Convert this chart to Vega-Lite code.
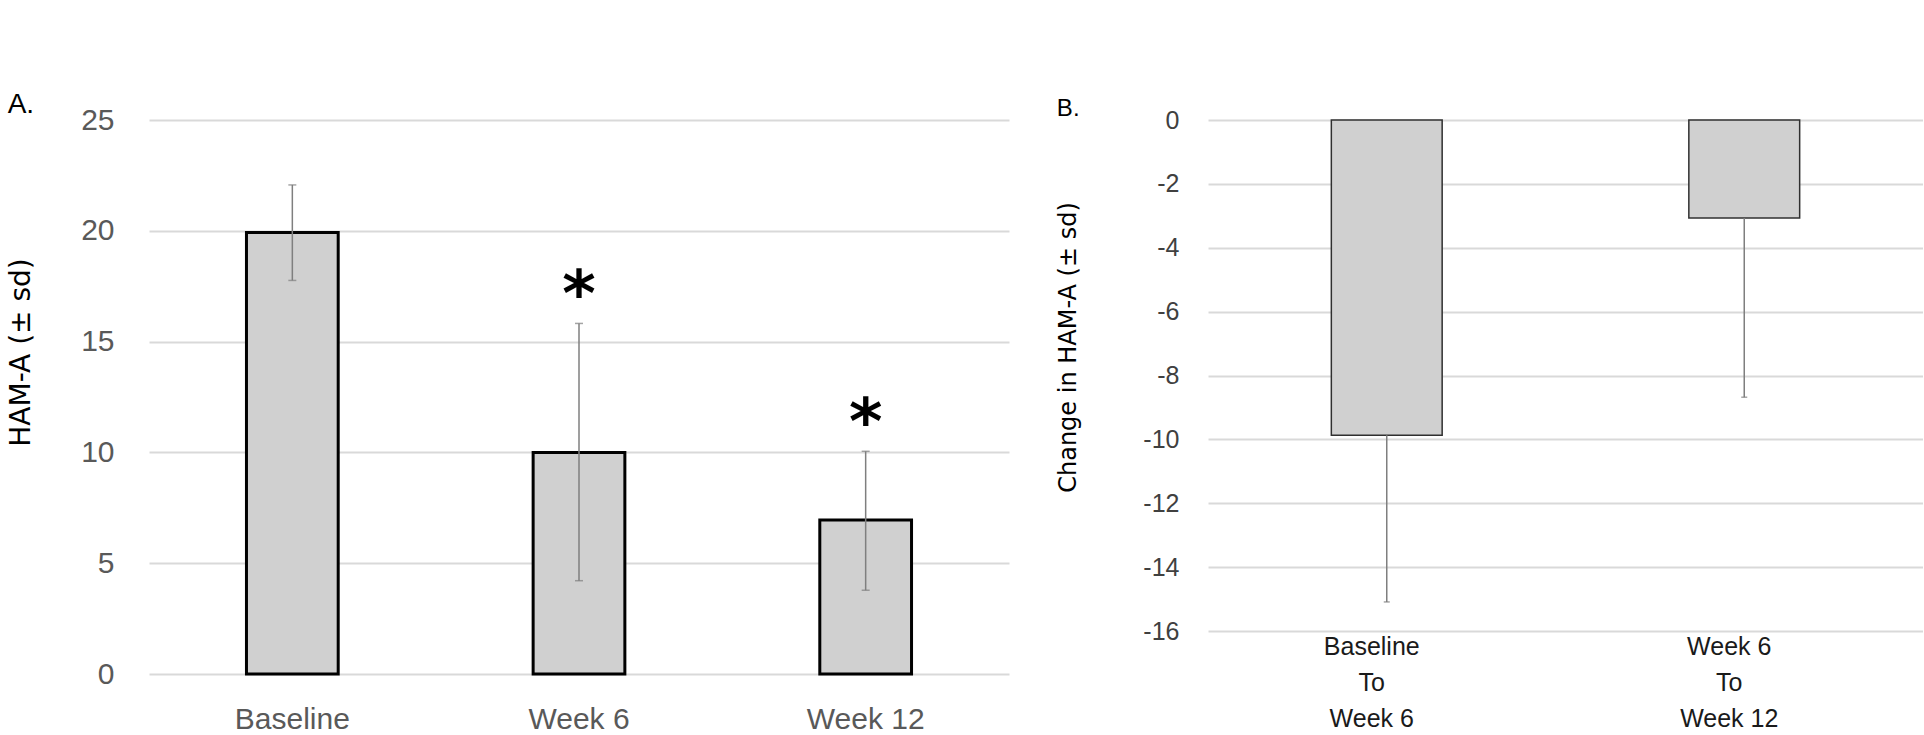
{
  "$schema": "https://vega.github.io/schema/vega-lite/v6.json",
  "background": "white",
  "padding": {"left": 7, "top": 91, "right": 0, "bottom": 0},
  "config": {"view": {"stroke": null}},
  "bounds": "flush",
  "spacing": 199,
  "hconcat": [
    {
      "title": {"text": "A.", "anchor": "start", "frame": "bounds", "fontSize": 28, "font": "Liberation Sans", "fontWeight": "normal", "color": "black", "offset": -14},
      "width": 860,
      "height": 554,
      "data": {"values": [
        {"time": "Baseline", "mean": 19.92, "lo": 17.76, "hi": 22.07, "sig": ""},
        {"time": "Week 6", "mean": 10.0, "lo": 4.21, "hi": 15.82, "sig": "*"},
        {"time": "Week 12", "mean": 6.95, "lo": 3.78, "hi": 10.05, "sig": "*"}
      ]},
      "encoding": {
        "x": {"field": "time", "type": "nominal", "sort": null, "title": null,
          "scale": {"paddingInner": 0.68, "paddingOuter": 0.34},
          "axis": {"labelAngle": 0, "domain": false, "ticks": false, "tickSize": 0, "labelPadding": 30, "labelFont": "Liberation Sans", "labelFontSize": 30, "labelColor": "#595959"}}
      },
      "layer": [
        {
          "mark": {"type": "bar", "fill": "#d0d0d0", "stroke": "black", "strokeWidth": 3},
          "encoding": {
            "y": {"field": "mean", "type": "quantitative", "title": "HAM-A (± sd)",
              "scale": {"domain": [0, 25], "nice": false},
              "axis": {"values": [0, 5, 10, 15, 20, 25], "grid": true, "gridColor": "#d9d9d9", "gridWidth": 2, "domain": false, "ticks": false, "tickSize": 0, "labelPadding": 35, "labelFont": "Liberation Sans", "labelFontSize": 30, "labelColor": "#595959", "titleFont": "DejaVu Sans", "titleFontSize": 28, "titleFontWeight": "normal", "titleColor": "black", "titlePadding": 45, "titleY": 232}}
          }
        },
        {
          "mark": {"type": "rule", "color": "#7f7f7f", "strokeWidth": 1.5},
          "encoding": {"y": {"field": "lo", "type": "quantitative", "title": "HAM-A (± sd)"}, "y2": {"field": "hi"}}
        },
        {
          "mark": {"type": "tick", "color": "#7f7f7f", "size": 8, "thickness": 1.5},
          "encoding": {"y": {"field": "lo", "type": "quantitative", "title": "HAM-A (± sd)"}}
        },
        {
          "mark": {"type": "tick", "color": "#7f7f7f", "size": 8, "thickness": 1.5},
          "encoding": {"y": {"field": "hi", "type": "quantitative", "title": "HAM-A (± sd)"}}
        },
        {
          "mark": {"type": "text", "font": "DejaVu Sans", "fontSize": 64, "fontWeight": "bold", "baseline": "alphabetic", "dy": -7, "color": "black"},
          "encoding": {"y": {"field": "hi", "type": "quantitative", "title": "HAM-A (± sd)"}, "text": {"field": "sig"}}
        }
      ]
    },
    {
      "title": {"text": "B.", "anchor": "start", "frame": "bounds", "fontSize": 24, "font": "Liberation Sans", "fontWeight": "normal", "color": "black", "offset": -13},
      "width": 715,
      "height": 511,
      "data": {"values": [
        {"period": "Baseline To Week 6", "mean": -9.87, "lo": -15.09},
        {"period": "Week 6 To Week 12", "mean": -3.07, "lo": -8.68}
      ]},
      "encoding": {
        "x": {"field": "period", "type": "nominal", "sort": null, "title": null,
          "scale": {"paddingInner": 0.69, "paddingOuter": 0.345},
          "axis": {"labelAngle": 0, "domain": false, "ticks": false, "tickSize": 0, "labelPadding": 3, "labelOffset": -15, "labelFont": "Liberation Sans", "labelFontSize": 25, "labelColor": "#1a1a1a", "labelLineHeight": 36, "labelBaseline": "top",
            "labelExpr": "[split(datum.label, ' To ')[0], 'To', split(datum.label, ' To ')[1]]"}}
      },
      "layer": [
        {
          "mark": {"type": "bar", "fill": "#d0d0d0", "stroke": "#303030", "strokeWidth": 1.5},
          "encoding": {
            "y": {"field": "mean", "type": "quantitative", "title": "Change in HAM-A (± sd)",
              "scale": {"domain": [-16, 0], "nice": false},
              "axis": {"values": [-16, -14, -12, -10, -8, -6, -4, -2, 0], "labelExpr": "toString(datum.value)", "grid": true, "gridColor": "#d9d9d9", "gridWidth": 2, "domain": false, "ticks": false, "tickSize": 0, "labelPadding": 29, "labelFont": "Liberation Sans", "labelFontSize": 25, "labelColor": "#404040", "titleFont": "DejaVu Sans", "titleFontSize": 24, "titleFontWeight": "normal", "titleColor": "black", "titlePadding": 62, "titleY": 227}}
          }
        },
        {
          "mark": {"type": "rule", "color": "#7f7f7f", "strokeWidth": 1.5},
          "encoding": {"y": {"field": "lo", "type": "quantitative", "title": "Change in HAM-A (± sd)"}, "y2": {"field": "mean"}}
        },
        {
          "mark": {"type": "tick", "color": "#7f7f7f", "size": 6, "thickness": 1.5},
          "encoding": {"y": {"field": "lo", "type": "quantitative", "title": "Change in HAM-A (± sd)"}}
        }
      ]
    }
  ]
}
